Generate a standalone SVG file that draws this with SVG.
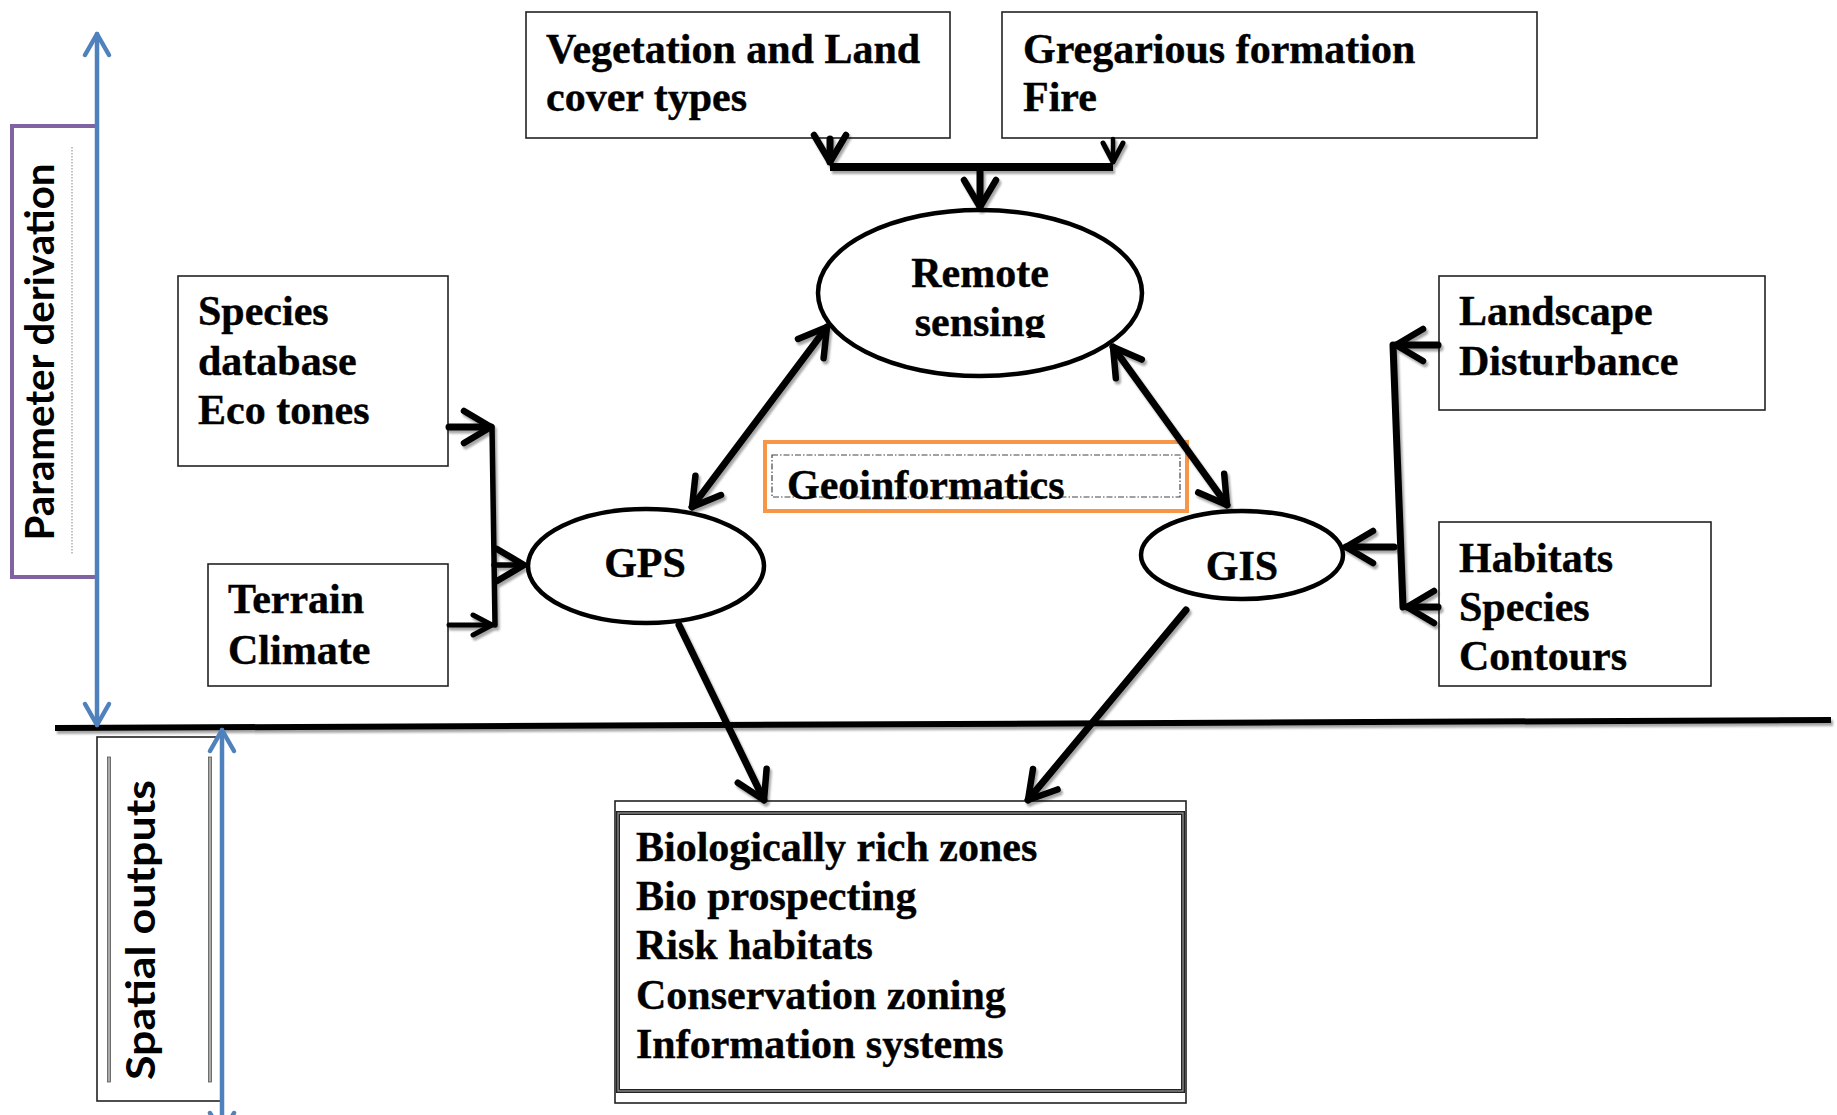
<svg xmlns="http://www.w3.org/2000/svg" width="1837" height="1115" viewBox="0 0 1837 1115">
<style>
.box{fill:#fff;stroke:#222;stroke-width:1.6}
.t{font-family:"Liberation Serif","Times New Roman",serif;font-weight:bold;font-size:42px;fill:#000;stroke:#000;stroke-width:0.4}
.side{font-family:"Lato","DejaVu Sans",sans-serif;font-weight:bold;font-size:40px;fill:#000}
.ell{fill:#fff;stroke:#000;stroke-width:4.5}
.con{fill:none;stroke:#000;stroke-width:7;stroke-linecap:round;stroke-linejoin:round}
.blue{fill:none;stroke:#4F81BD;stroke-width:4.5;stroke-linecap:round;stroke-linejoin:round}
</style>
<defs>
<filter id="sh" x="-20%" y="-20%" width="140%" height="140%">
<feDropShadow dx="2" dy="3" stdDeviation="1.2" flood-color="#000" flood-opacity="0.35"/>
</filter>
<marker id="ch" viewBox="-32 -20 36 40" refX="0" refY="0" markerWidth="36" markerHeight="40" markerUnits="userSpaceOnUse" orient="auto-start-reverse">
<path d="M-27,-16 L0,0 L-27,16" fill="none" stroke="#000" stroke-width="6.5" stroke-linecap="round" stroke-linejoin="round"/>
</marker>
<marker id="chs" viewBox="-24 -14 28 28" refX="0" refY="0" markerWidth="28" markerHeight="28" markerUnits="userSpaceOnUse" orient="auto-start-reverse">
<path d="M-19,-10 L0,0 L-19,10" fill="none" stroke="#000" stroke-width="5" stroke-linecap="round" stroke-linejoin="round"/>
</marker>
<marker id="bch" viewBox="-26 -16 30 32" refX="0" refY="0" markerWidth="30" markerHeight="32" markerUnits="userSpaceOnUse" orient="auto-start-reverse">
<path d="M-21,-12 L0,0 L-21,12" fill="none" stroke="#4F81BD" stroke-width="4.5" stroke-linecap="round" stroke-linejoin="round"/>
</marker>
<clipPath id="rsclip"><rect x="800" y="200" width="360" height="138"/></clipPath>
</defs>
<rect width="1837" height="1115" fill="#fff"/>

<g id="parameter-derivation">
<rect x="12" y="126" width="85" height="451" fill="none" stroke="#8064A2" stroke-width="4"/>
<line x1="72" y1="147" x2="72" y2="555" stroke="#999" stroke-width="1.2" stroke-dasharray="1.5 1.5"/>
<text class="side" transform="translate(54,352) rotate(-90)" text-anchor="middle" textLength="377" lengthAdjust="spacingAndGlyphs">Parameter derivation</text>
</g>

<g id="spatial-outputs">
<rect x="97" y="737" width="125" height="364" fill="none" stroke="#222" stroke-width="1.6"/>
<rect x="107.5" y="757" width="3" height="325" fill="#aaa" stroke="#555" stroke-width="0.8"/>
<rect x="208.5" y="757" width="3" height="325" fill="#aaa" stroke="#555" stroke-width="0.8"/>
<text class="side" transform="translate(155,930) rotate(-90)" text-anchor="middle" textLength="300" lengthAdjust="spacingAndGlyphs">Spatial outputs</text>
</g>

<g id="veg">
<rect class="box" x="526" y="12" width="424" height="126"/>
<text class="t" x="546" y="63">Vegetation and Land</text>
<text class="t" x="546" y="111">cover types</text>
</g>
<g id="greg">
<rect class="box" x="1002" y="12" width="535" height="126"/>
<text class="t" x="1023" y="63">Gregarious formation</text>
<text class="t" x="1023" y="111">Fire</text>
</g>
<g id="species">
<rect class="box" x="178" y="276" width="270" height="190"/>
<text class="t" x="198" y="325">Species</text>
<text class="t" x="198" y="375">database</text>
<text class="t" x="198" y="424">Eco tones</text>
</g>
<g id="terrain">
<rect class="box" x="208" y="564" width="240" height="122"/>
<text class="t" x="228" y="613">Terrain</text>
<text class="t" x="228" y="664">Climate</text>
</g>
<g id="landscape">
<rect class="box" x="1439" y="276" width="326" height="134"/>
<text class="t" x="1459" y="325">Landscape</text>
<text class="t" x="1459" y="375">Disturbance</text>
</g>
<g id="habitats">
<rect class="box" x="1439" y="522" width="272" height="164"/>
<text class="t" x="1459" y="572">Habitats</text>
<text class="t" x="1459" y="621">Species</text>
<text class="t" x="1459" y="670">Contours</text>
</g>
<g id="remote-sensing">
<ellipse class="ell" cx="980" cy="293" rx="162" ry="83"/>
<g clip-path="url(#rsclip)">
<text class="t" x="980" y="287" text-anchor="middle">Remote</text>
<text class="t" x="980" y="336" text-anchor="middle">sensing</text>
</g>
</g>
<g id="gps">
<ellipse class="ell" cx="646" cy="566" rx="118" ry="57"/>
<text class="t" x="645" y="577" text-anchor="middle">GPS</text>
</g>
<g id="gis">
<ellipse class="ell" cx="1242" cy="555" rx="101" ry="44"/>
<text class="t" x="1242" y="580" text-anchor="middle">GIS</text>
</g>
<g id="geoinformatics">
<rect x="765" y="442" width="422" height="69" fill="#fff" stroke="#F79646" stroke-width="4"/>
<rect x="772" y="455" width="408" height="42" fill="none" stroke="#444" stroke-width="1.2" stroke-dasharray="6 2 1.5 2"/>
<text class="t" x="787" y="499">Geoinformatics</text>
</g>
<g id="outputs">
<rect class="box" x="615" y="801" width="571" height="302"/>
<rect x="618" y="813" width="565" height="278" fill="none" stroke="#222" stroke-width="4"/>
<rect x="618" y="813" width="565" height="278" fill="none" stroke="#999" stroke-width="1.2"/>
<text class="t" x="636" y="861">Biologically rich zones</text>
<text class="t" x="636" y="910">Bio prospecting</text>
<text class="t" x="636" y="959">Risk habitats</text>
<text class="t" x="636" y="1009">Conservation zoning</text>
<text class="t" x="636" y="1058">Information systems</text>
</g>

<g id="connectors">
<g filter="url(#sh)">
<line x1="55" y1="728" x2="1831" y2="720" stroke="#000" stroke-width="6"/>
<line class="con" x1="830" y1="139" x2="830" y2="162" marker-end="url(#ch)"/>
<line class="con" x1="1113" y1="139" x2="1113" y2="162" style="stroke-width:4.5" marker-end="url(#chs)"/>
<line x1="830" y1="167" x2="1113" y2="167" stroke="#000" stroke-width="8"/>
<line class="con" x1="980" y1="168" x2="980" y2="207" marker-end="url(#ch)"/>
<line class="con" x1="449" y1="427" x2="491" y2="427" marker-end="url(#ch)"/>
<line class="con" x1="492" y1="427" x2="495" y2="625" style="stroke-width:5.5"/>
<line class="con" x1="449" y1="625" x2="492" y2="625" style="stroke-width:5" marker-end="url(#chs)"/>
<line class="con" x1="494" y1="565" x2="524" y2="565" style="stroke-width:5.5" marker-end="url(#ch)"/>
<line class="con" x1="1438" y1="345" x2="1396" y2="345" marker-end="url(#ch)"/>
<line class="con" x1="1393" y1="345" x2="1403" y2="607"/>
<line class="con" x1="1438" y1="607" x2="1407" y2="607" marker-end="url(#ch)"/>
<line class="con" x1="1394" y1="547" x2="1346" y2="547" marker-end="url(#ch)"/>
<line class="con" x1="827" y1="327" x2="692" y2="507" marker-start="url(#ch)" marker-end="url(#ch)"/>
<line class="con" x1="1113" y1="347" x2="1227" y2="505" marker-start="url(#ch)" marker-end="url(#ch)"/>
<line class="con" x1="679" y1="625" x2="764" y2="800" marker-end="url(#ch)"/>
<line class="con" x1="1186" y1="610" x2="1028" y2="800" marker-end="url(#ch)"/>
</g>
<line class="blue" x1="97" y1="34" x2="97" y2="725" marker-start="url(#bch)" marker-end="url(#bch)"/>
<line class="blue" x1="222" y1="730" x2="222" y2="1134" marker-start="url(#bch)" marker-end="url(#bch)"/>
</g>
</svg>
